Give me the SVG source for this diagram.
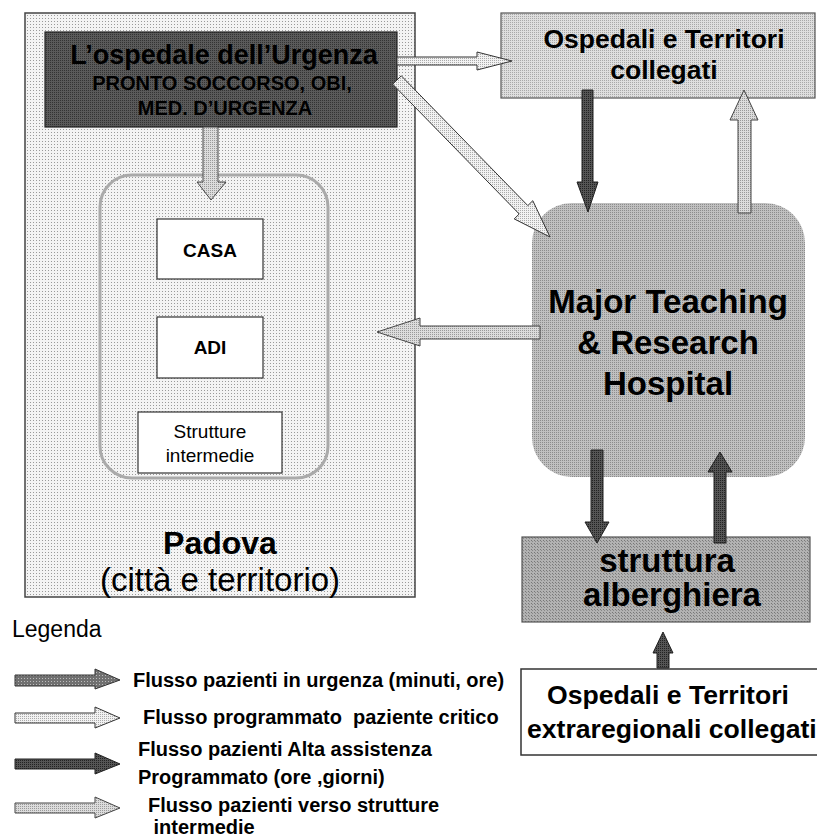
<svg xmlns="http://www.w3.org/2000/svg" width="817" height="840" viewBox="0 0 817 840">
  <defs>
    <!-- halftone-like textures for the filled areas -->
    <pattern id="dotsLight" width="3" height="3" patternUnits="userSpaceOnUse">
      <rect width="3" height="3" fill="#f4f4f4"/>
      <rect x="0" y="0" width="1" height="1" fill="#9a9a9a"/>
    </pattern>
    <pattern id="dotsDark" width="2" height="2" patternUnits="userSpaceOnUse">
      <rect width="2" height="2" fill="#5a5a5a"/>
      <rect x="0" y="0" width="1" height="1" fill="#333"/>
    </pattern>
    <pattern id="dotsHosp" width="2" height="2" patternUnits="userSpaceOnUse">
      <rect width="2" height="2" fill="#dedede"/>
      <rect x="0" y="0" width="1" height="1" fill="#a8a8a8"/>
    </pattern>
    <pattern id="dotsMajor" width="2" height="2" patternUnits="userSpaceOnUse">
      <rect width="2" height="2" fill="#c0c0c0"/>
      <rect x="0" y="0" width="1" height="1" fill="#8c8c8c"/>
    </pattern>
    <pattern id="dotsStrut" width="3" height="3" patternUnits="userSpaceOnUse">
      <rect width="3" height="3" fill="#b2b2b2"/>
      <rect x="0" y="0" width="1" height="1" fill="#777"/>
      <rect x="1" y="1" width="1" height="1" fill="#888"/>
    </pattern>
    <pattern id="arrUrg" width="3" height="3" patternUnits="userSpaceOnUse">
      <rect width="3" height="3" fill="#707070"/>
      <rect x="0" y="0" width="1" height="1" fill="#bbb"/>
    </pattern>
    <pattern id="arrCrit" width="2" height="2" patternUnits="userSpaceOnUse">
      <rect width="2" height="2" fill="#f2f2f2"/>
      <rect x="0" y="0" width="1" height="1" fill="#aaa"/>
    </pattern>
    <pattern id="arrAlta" width="2" height="2" patternUnits="userSpaceOnUse">
      <rect width="2" height="2" fill="#555"/>
      <rect x="0" y="0" width="1" height="1" fill="#222"/>
    </pattern>
    <pattern id="arrInt" width="2" height="2" patternUnits="userSpaceOnUse">
      <rect width="2" height="2" fill="#dcdcdc"/>
      <rect x="0" y="0" width="1" height="1" fill="#999"/>
    </pattern>
  </defs>
  <style>
    text { font-family: "Liberation Sans", Arial, sans-serif; fill: #000; white-space: pre; }
    .b { font-weight: bold; }
    .c { text-anchor: middle; }
    .urg { fill: url(#arrUrg); stroke: #333; stroke-width: 1; }
    .crit { fill: url(#arrCrit); stroke: #333; stroke-width: 1; }
    .alta { fill: url(#arrAlta); stroke: #222; stroke-width: 1; }
    .int { fill: url(#arrInt); stroke: #444; stroke-width: 1; }
    .box { fill: #fff; stroke: #333; stroke-width: 1.2; }
  </style>

  <rect width="817" height="840" fill="#fff"/>

  <!-- Padova: city and territory -->
  <g id="padova">
    <rect x="25" y="13" width="390" height="584" fill="url(#dotsLight)" stroke="#444" stroke-width="1.5"/>
    <rect x="100" y="175" width="228" height="303" rx="32" fill="none" stroke="#aaa" stroke-width="3"/>
    <text class="b c" x="220" y="554" font-size="32">Padova</text>
    <text class="c" x="220" y="591" font-size="33">(città e territorio)</text>
  </g>

  <g id="urgenza">
    <rect x="45" y="32" width="352" height="95" fill="url(#dotsDark)" stroke="#222" stroke-width="1.2"/>
    <text class="b c" x="224" y="64" font-size="27">L’ospedale dell’Urgenza</text>
    <text class="b c" x="222" y="90" font-size="20">PRONTO SOCCORSO, OBI,</text>
    <text class="b c" x="225" y="115" font-size="20">MED. D’URGENZA</text>
  </g>

  <g id="casa">
    <rect class="box" x="157" y="219" width="106" height="60"/>
    <text class="b c" x="210" y="257" font-size="19">CASA</text>
  </g>
  <g id="adi">
    <rect class="box" x="157" y="317" width="106" height="61"/>
    <text class="b c" x="210" y="354" font-size="19">ADI</text>
  </g>
  <g id="strutture">
    <rect class="box" x="138" y="412" width="144" height="61"/>
    <text class="c" x="210" y="438" font-size="19">Strutture</text>
    <text class="c" x="210" y="462" font-size="19">intermedie</text>
  </g>

  <g id="ospedali">
    <rect x="501" y="13" width="314" height="85" fill="url(#dotsHosp)" stroke="#555" stroke-width="1.2"/>
    <text class="b c" x="664" y="48" font-size="26.5">Ospedali e Territori</text>
    <text class="b c" x="664" y="79" font-size="26.5">collegati</text>
  </g>

  <g id="mtrh">
    <rect x="532" y="203" width="273" height="274" rx="40" fill="url(#dotsMajor)"/>
    <text class="b c" x="668" y="313" font-size="33">Major Teaching</text>
    <text class="b c" x="668" y="354" font-size="33">&amp; Research</text>
    <text class="b c" x="668" y="395" font-size="33">Hospital</text>
  </g>

  <g id="alberghiera">
    <rect x="522" y="537" width="288" height="85" fill="url(#dotsStrut)" stroke="#555" stroke-width="1.2"/>
    <text class="b c" x="667" y="572" font-size="33">struttura</text>
    <text class="b c" x="672" y="606" font-size="33">alberghiera</text>
  </g>

  <g id="extraregionali">
    <rect x="521" y="669" width="300" height="86" fill="#fff" stroke="#333" stroke-width="1.5"/>
    <text class="b" x="547" y="704" font-size="26.6">Ospedali e Territori</text>
    <text class="b" x="527" y="738" font-size="26.6">extraregionali collegati</text>
  </g>

  <!-- flows -->
  <g id="connectors">
    <!-- emergency hospital -> linked hospitals -->
    <polygon class="crit" points="397,57 477,57 477,52 512,61 477,70 477,65 397,65"/>
    <!-- emergency hospital -> teaching hospital -->
    <polygon class="crit" points="401.3,75.8 527.8,205.6 532.8,200.7 550,237 514.2,218.9 519.2,214 392.7,84.2"/>
    <!-- emergency hospital -> home / intermediate care -->
    <polygon class="int" points="203,127 218,127 218,182 226,182 211,200 197,182 203,182"/>
    <!-- teaching hospital -> Padova -->
    <polygon class="int" points="540,326 420,326 420,318 377,332 420,346 420,339 540,339"/>
    <!-- linked hospitals <-> teaching hospital -->
    <polygon class="alta" points="582,90 593,90 593,182 598,182 588,212 577,182 582,182"/>
    <polygon class="int" points="738,213 751,213 751,120 758,120 744,90 730,120 738,120"/>
    <!-- teaching hospital <-> hotel facility -->
    <polygon class="alta" points="591,450 603,450 603,522 609,522 597,543 585,522 591,522"/>
    <polygon class="alta" points="714,543 726,543 726,472 732,472 720,452 708,472 714,472"/>
    <!-- extra-regional -> hotel facility -->
    <polygon class="alta" points="657,668 669,668 669,653 673,653 663,632 653,653 657,653"/>
  </g>

  <!-- legend -->
  <g id="legenda">
    <text x="12" y="637" font-size="23">Legenda</text>
    <polygon class="urg" points="15,675 95,675 95,669 120,680 95,689 95,686 15,686"/>
    <text class="b" x="133" y="687" font-size="20">Flusso pazienti in urgenza (minuti, ore)</text>
    <polygon class="crit" points="15,713 95,713 95,707 120,718 95,728 95,723 15,723"/>
    <text class="b" x="143" y="724" font-size="20">Flusso programmato  paziente critico</text>
    <polygon class="alta" points="15,759 95,759 95,753 120,764 95,774 95,769 15,769"/>
    <text class="b" x="138" y="756" font-size="20">Flusso pazienti Alta assistenza</text>
    <text class="b" x="138" y="784" font-size="20">Programmato (ore ,giorni)</text>
    <polygon class="int" points="15,803 95,803 95,797 120,808 95,818 95,813 15,813"/>
    <text class="b" x="148" y="812" font-size="20">Flusso pazienti verso strutture</text>
    <text class="b" x="148" y="834" font-size="20"> intermedie</text>
  </g>
</svg>
